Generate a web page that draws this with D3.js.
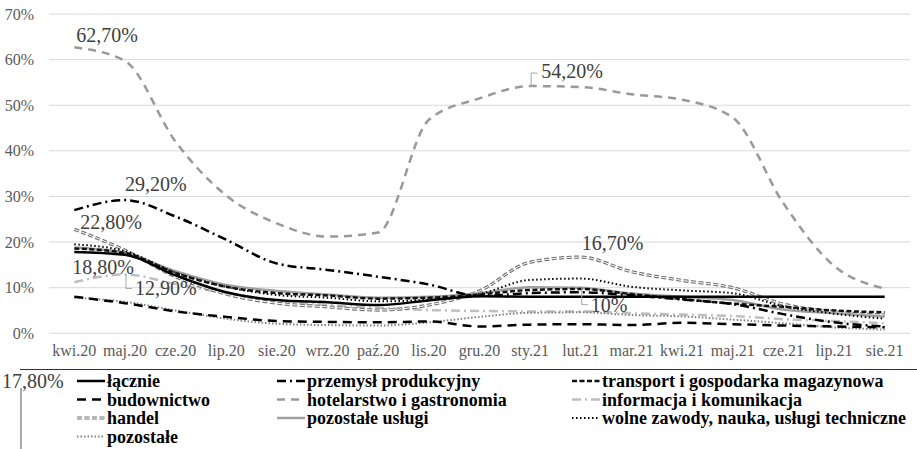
<!DOCTYPE html>
<html>
<head>
<meta charset="utf-8">
<script src="https://cdn.jsdelivr.net/npm/d3@7"></script>
<style>
  body { margin: 0; background: #fff; }
  svg { display: block; }
</style>
</head>
<body>
<div id="chart"></div>
<script>
// months on the x axis
var months = ["kwi.20", "maj.20", "cze.20", "lip.20", "sie.20", "wrz.20", "paź.20", "lis.20", "gru.20",
              "sty.21", "lut.21", "mar.21", "kwi.21", "maj.21", "cze.21", "lip.21", "sie.21"];

// values in %
var lacznie         = [17.8, 17.2, 12.7, 9.0, 7.3, 6.8, 6.2, 7.2, 8.1, 8.0, 8.0, 8.0, 8.0, 8.0, 8.0, 8.0, 8.0];
var przemysl        = [27.0, 29.2, 25.6, 20.5, 15.3, 13.9, 12.4, 10.7, 8.2, 8.8, 9.0, 8.3, 7.4, 6.4, 4.2, 2.4, 1.5];
var transport       = [18.6, 17.6, 13.2, 10.2, 8.8, 8.3, 7.6, 7.8, 8.5, 9.5, 9.7, 8.6, 7.5, 6.5, 5.8, 5.0, 4.6];
var budownictwo     = [8.0, 6.6, 4.8, 3.6, 2.7, 2.5, 2.4, 2.6, 1.5, 1.9, 2.0, 1.8, 2.3, 2.0, 1.7, 1.5, 1.3];
var hotelarstwo     = [62.7, 59.7, 42.0, 30.2, 24.1, 21.2, 22.1, 46.8, 51.5, 54.2, 54.0, 52.4, 51.2, 47.3, 28.5, 14.8, 9.8];
var informacja      = [11.2, 12.9, 10.8, 8.8, 7.2, 6.2, 5.6, 5.1, 4.9, 4.8, 4.8, 4.4, 4.1, 3.8, 3.1, 2.7, 2.2];
var handel          = [22.8, 18.2, 12.4, 8.6, 6.6, 5.8, 5.1, 6.2, 9.3, 15.6, 16.7, 13.5, 11.6, 10.0, 6.4, 4.7, 4.0];
var pozostaleUslugi = [18.8, 17.6, 13.6, 10.6, 9.3, 8.5, 7.8, 8.0, 8.8, 10.1, 10.0, 8.7, 8.0, 7.3, 5.2, 4.4, 3.7];
var wolneZawody     = [19.5, 18.0, 13.3, 10.2, 8.4, 7.8, 7.0, 7.4, 8.6, 11.7, 12.0, 10.2, 9.4, 8.8, 5.9, 4.3, 3.2];
var pozostale       = [7.8, 6.9, 5.0, 3.2, 2.1, 1.8, 1.7, 2.4, 3.6, 4.5, 4.6, 4.0, 3.7, 3.0, 2.2, 1.3, 0.8];

var yTicks = [0, 10, 20, 30, 40, 50, 60, 70];

// series: name, data, look
var series = [
  { name: "łącznie", data: lacznie, color: "#000", w: 2.5, dash: null },
  { name: "przemysł produkcyjny", data: przemysl, color: "#000", w: 2.5, dash: "9,4,2,4" },
  { name: "transport i gospodarka magazynowa", data: transport, color: "#111", w: 2.5, dash: "5,2.5" },
  { name: "budownictwo", data: budownictwo, color: "#000", w: 2.5, dash: "9,6" },
  { name: "hotelarstwo i gastronomia", data: hotelarstwo, color: "#999", w: 2.5, dash: "8,6" },
  { name: "informacja i komunikacja", data: informacja, color: "#bfbfbf", w: 2.5, dash: "9,4,2,4" },
  { name: "handel", data: handel, color: "#707070", w: 3.2, dash: "5,2.5", hollow: true },
  { name: "pozostałe usługi", data: pozostaleUslugi, color: "#a0a0a0", w: 2.5, dash: null },
  { name: "wolne zawody, nauka, usługi techniczne", data: wolneZawody, color: "#000", w: 2, dash: "1.5,2.5" },
  { name: "pozostałe", data: pozostale, color: "#808080", w: 2, dash: "1.5,2" }
];

// data labels: series index, month index, text, offset of text left edge / middle
var labels = [
  { s: 4, i: 0, text: "62,70%", dx: 2, dy: -12 },
  { s: 1, i: 1, text: "29,20%", dx: 0, dy: -16 },
  { s: 6, i: 0, text: "22,80%", dx: 6, dy: -7 },
  { s: 7, i: 0, text: "18,80%", dx: -2, dy: 19 },
  { s: 5, i: 1, text: "12,90%", dx: 10, dy: 14, leader: true },
  { s: 4, i: 9, text: "54,20%", dx: 11, dy: -15, leaderUp: true },
  { s: 6, i: 10, text: "16,70%", dx: 1, dy: -14 },
  { s: 7, i: 10, text: "10%", dx: 10, dy: 17, leader: true }
];

var FONT = "Liberation Serif";

var width = 917, height = 449;
var plot = { left: 49, right: 910, top: 14, bottom: 333.3 };

var svg = d3.select("#chart").append("svg")
    .attr("width", width)
    .attr("height", height);

svg.append("rect").attr("width", width).attr("height", height).attr("fill", "#fff");

var x = d3.scalePoint()
    .domain(months)
    .range([plot.left, plot.right])
    .padding(0.5);

var y = d3.scaleLinear()
    .domain([0, 70])
    .range([plot.bottom, plot.top]);

// gridlines + y labels
svg.append("g").selectAll("line")
    .data(yTicks)
    .enter().append("line")
    .attr("x1", plot.left).attr("x2", plot.right)
    .attr("y1", d => y(d)).attr("y2", d => y(d))
    .attr("stroke", "#d9d9d9").attr("stroke-width", 1);

svg.append("g").selectAll("text")
    .data(yTicks)
    .enter().append("text")
    .attr("x", 34).attr("y", d => y(d))
    .attr("dy", "0.35em")
    .attr("text-anchor", "end")
    .attr("font-family", FONT)
    .attr("font-size", 16).attr("fill", "#595959")
    .text(d => d + "%");

// x labels
svg.append("g").selectAll("text")
    .data(months)
    .enter().append("text")
    .attr("x", d => x(d)).attr("y", 356)
    .attr("text-anchor", "middle")
    .attr("font-family", FONT)
    .attr("font-size", 16).attr("fill", "#595959")
    .text(d => d);

// lines
var line = d3.line()
    .x((d, i) => x(months[i]))
    .y(d => y(d))
    .curve(d3.curveMonotoneX);

var drawOrder = [4, 5, 9, 6, 7, 8, 3, 2, 1, 0];
var gLines = svg.append("g");
drawOrder.forEach(function (k) {
    var s = series[k];
    gLines.append("path")
        .attr("d", line(s.data))
        .attr("fill", "none")
        .attr("stroke", s.color)
        .attr("stroke-width", s.w)
        .attr("stroke-dasharray", s.dash);
    if (s.hollow) {
        gLines.append("path")
            .attr("d", line(s.data))
            .attr("fill", "none")
            .attr("stroke", "#fff")
            .attr("stroke-width", 1)
            .attr("stroke-dasharray", s.dash);
    }
});

// data labels
var gLab = svg.append("g");
labels.forEach(function (l) {
    var px = x(months[l.i]), py = y(series[l.s].data[l.i]);
    gLab.append("text")
        .attr("x", px + l.dx).attr("y", py + l.dy)
        .attr("dy", "0.35em")
        .attr("font-family", FONT)
        .attr("font-size", 20).attr("fill", "#404040")
        .text(l.text);
    if (l.leader) {
        gLab.append("path")
            .attr("d", "M" + (px + 1) + "," + py + "V" + (py + l.dy) + "H" + (px + 7))
            .attr("fill", "none").attr("stroke", "#a6a6a6").attr("stroke-width", 1);
    }
    if (l.leaderUp) {
        gLab.append("path")
            .attr("d", "M" + (px + 1) + "," + py + "V" + (py + l.dy + 2) + "H" + (px + 7))
            .attr("fill", "none").attr("stroke", "#a6a6a6").attr("stroke-width", 1);
    }
});

// stray rule under the axis labels
svg.append("line")
    .attr("x1", 20).attr("x2", 917)
    .attr("y1", 369.5).attr("y2", 369.5)
    .attr("stroke", "#333").attr("stroke-width", 1);

// the "17,80%" label that ended up in the legend area
svg.append("text")
    .attr("x", 2).attr("y", 381).attr("dy", "0.35em")
    .attr("font-family", FONT)
    .attr("font-size", 20).attr("fill", "#404040")
    .text("17,80%");
svg.append("line")
    .attr("x1", 21).attr("x2", 21).attr("y1", 388).attr("y2", 449)
    .attr("stroke", "#555").attr("stroke-width", 1);

// legend
var colX = [77, 277, 572];
var rowY = [381, 399.5, 418, 436.5];
var gLeg = svg.append("g");
series.forEach(function (s, k) {
    var lx = colX[k % 3], ly = rowY[Math.floor(k / 3)];
    gLeg.append("line")
        .attr("x1", lx).attr("x2", lx + 28)
        .attr("y1", ly).attr("y2", ly)
        .attr("stroke", s.color)
        .attr("stroke-width", s.w)
        .attr("stroke-dasharray", s.dash);
    if (s.hollow) {
        gLeg.append("line")
            .attr("x1", lx).attr("x2", lx + 28)
            .attr("y1", ly).attr("y2", ly)
            .attr("stroke", "#fff").attr("stroke-width", 1)
            .attr("stroke-dasharray", s.dash);
    }
    gLeg.append("text")
        .attr("x", lx + 30).attr("y", ly).attr("dy", "0.35em")
        .attr("font-family", FONT)
        .attr("font-size", 18).attr("font-weight", "bold").attr("fill", "#000")
        .text(s.name);
});
</script>
</body>
</html>
